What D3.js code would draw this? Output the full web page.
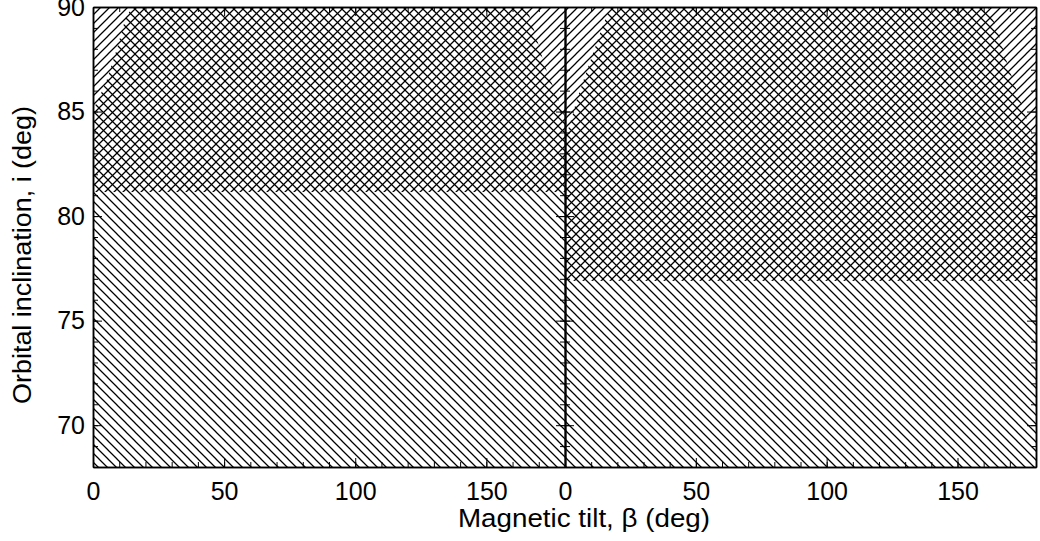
<!DOCTYPE html>
<html>
<head>
<meta charset="utf-8">
<script src="https://cdn.jsdelivr.net/npm/d3@7"></script>
<style>
  body { margin: 0; background: #fff; }
  svg { display: block; font-family: "Liberation Sans", Arial, sans-serif; }
  .axis path, .axis line { stroke: #000; }
  .axis text { fill: #000; font-size: 25px; }
</style>
</head>
<body>
<svg width="1040" height="541"></svg>
<script>
// values
const betaTicks = [0, 50, 100, 150]
const incTicks = [70, 75, 80, 85, 90]
const betaDomain = [0, 180]
const incDomain = [68, 90]

// lower edge of the cross-hatched band, one per panel
const crossLow = [81.15, 76.9]

// edges of the "/"-only corners (beta, i)
const leftEdge = [
  [[0, 85.1], [2, 85.56], [5.2, 86.5], [9, 87.95], [12.2, 89.38], [14.8, 90]],
  [[0, 83.8], [1.6, 84.28], [4.5, 85.56], [8.9, 87.15], [13.4, 88.74], [17.2, 90]]
]
const rightEdge = [
  [[165.4, 90], [168.6, 88.74], [172.4, 87.15], [177.5, 85.56], [179.1, 85.0], [180, 84.8]],
  [[161.8, 90], [165.6, 88.74], [169.4, 87.15], [173.9, 85.56], [175.1, 85.08], [179.6, 83.65], [180, 83.6]]
]

const svg = d3.select("svg")
const plotTop = 7, plotBottom = 467
const panels = [[93, 565], [565, 1036]]
const step = 9

const defs = svg.append("defs")
defs.append("pattern")
  .attr("id", "fwd")
  .attr("patternUnits", "userSpaceOnUse")
  .attr("width", step).attr("height", step)
  .append("path")
  .attr("d", `M0,${step} L${step},0 M-1,1 L1,-1 M${step-1},${step+1} L${step+1},${step-1}`)
  .attr("stroke", "#000").attr("stroke-width", 1.25)
defs.append("pattern")
  .attr("id", "back")
  .attr("patternUnits", "userSpaceOnUse")
  .attr("width", step).attr("height", step)
  .append("path")
  .attr("d", `M0,0 L${step},${step} M-1,${step-1} L1,${step+1} M${step-1},-1 L${step+1},1`)
  .attr("stroke", "#000").attr("stroke-width", 1.25)

const y = d3.scaleLinear().domain(incDomain).range([plotBottom, plotTop])

panels.forEach((p, k) => {
  const x = d3.scaleLinear().domain(betaDomain).range(p)
  const g = svg.append("g")

  defs.append("clipPath").attr("id", "clip" + k)
    .append("rect")
    .attr("x", p[0]).attr("y", plotTop)
    .attr("width", p[1] - p[0]).attr("height", plotBottom - plotTop)

  const area = g.append("g").attr("clip-path", "url(#clip" + k + ")")

  // "\" hatch: everything below the corner edges
  const poly = [[betaDomain[0], incDomain[0]]]
    .concat(leftEdge[k], rightEdge[k], [[betaDomain[1], incDomain[0]]])
  const line = d3.line().x(d => x(d[0])).y(d => y(d[1]))
  area.append("path")
    .attr("d", line(poly) + "Z")
    .attr("fill", "url(#back)")

  // "/" hatch: upper band
  area.append("rect")
    .attr("x", x(betaDomain[0]))
    .attr("y", y(incDomain[1]))
    .attr("width", x(betaDomain[1]) - x(betaDomain[0]))
    .attr("height", y(crossLow[k]) - y(incDomain[1]))
    .attr("fill", "url(#fwd)")

  const minorX = d3.range(0, 181, 10)
  const minorY = d3.range(68, 91, 1)

  // bottom
  g.append("g").attr("class", "axis")
    .attr("transform", `translate(0,${plotBottom})`)
    .call(d3.axisBottom(x).tickValues(minorX).tickSize(-5).tickFormat("").tickSizeOuter(0))
  g.append("g").attr("class", "axis")
    .attr("transform", `translate(0,${plotBottom})`)
    .call(d3.axisBottom(x).tickValues(betaTicks).tickSize(-9).tickPadding(15).tickSizeOuter(0))
  // top
  g.append("g").attr("class", "axis")
    .attr("transform", `translate(0,${plotTop})`)
    .call(d3.axisTop(x).tickValues(minorX).tickSize(-5).tickFormat("").tickSizeOuter(0))
  g.append("g").attr("class", "axis")
    .attr("transform", `translate(0,${plotTop})`)
    .call(d3.axisTop(x).tickValues(betaTicks).tickSize(-9).tickFormat("").tickSizeOuter(0))
  // left
  g.append("g").attr("class", "axis")
    .attr("transform", `translate(${p[0]},0)`)
    .call(d3.axisLeft(y).tickValues(minorY).tickSize(-5).tickFormat("").tickSizeOuter(0))
  g.append("g").attr("class", "axis")
    .attr("transform", `translate(${p[0]},0)`)
    .call(d3.axisLeft(y).tickValues(incTicks).tickSize(-9).tickPadding(8).tickSizeOuter(0)
      .tickFormat(k === 0 ? d3.format("d") : ""))
  // right
  g.append("g").attr("class", "axis")
    .attr("transform", `translate(${p[1]},0)`)
    .call(d3.axisRight(y).tickValues(minorY).tickSize(-5).tickFormat("").tickSizeOuter(0))
  g.append("g").attr("class", "axis")
    .attr("transform", `translate(${p[1]},0)`)
    .call(d3.axisRight(y).tickValues(incTicks).tickSize(-9).tickFormat("").tickSizeOuter(0))
})

svg.selectAll(".axis path.domain").attr("stroke-width", 1.5)

svg.append("text")
  .attr("x", 584).attr("y", 527)
  .attr("text-anchor", "middle")
  .attr("font-size", 25)
  .attr("textLength", 252)
  .attr("lengthAdjust", "spacingAndGlyphs")
  .text("Magnetic tilt, β (deg)")

svg.append("text")
  .attr("transform", "translate(31,255) rotate(-90)")
  .attr("text-anchor", "middle")
  .attr("font-size", 25)
  .attr("textLength", 298)
  .attr("lengthAdjust", "spacingAndGlyphs")
  .text("Orbital inclination, i (deg)")
</script>
</body>
</html>
